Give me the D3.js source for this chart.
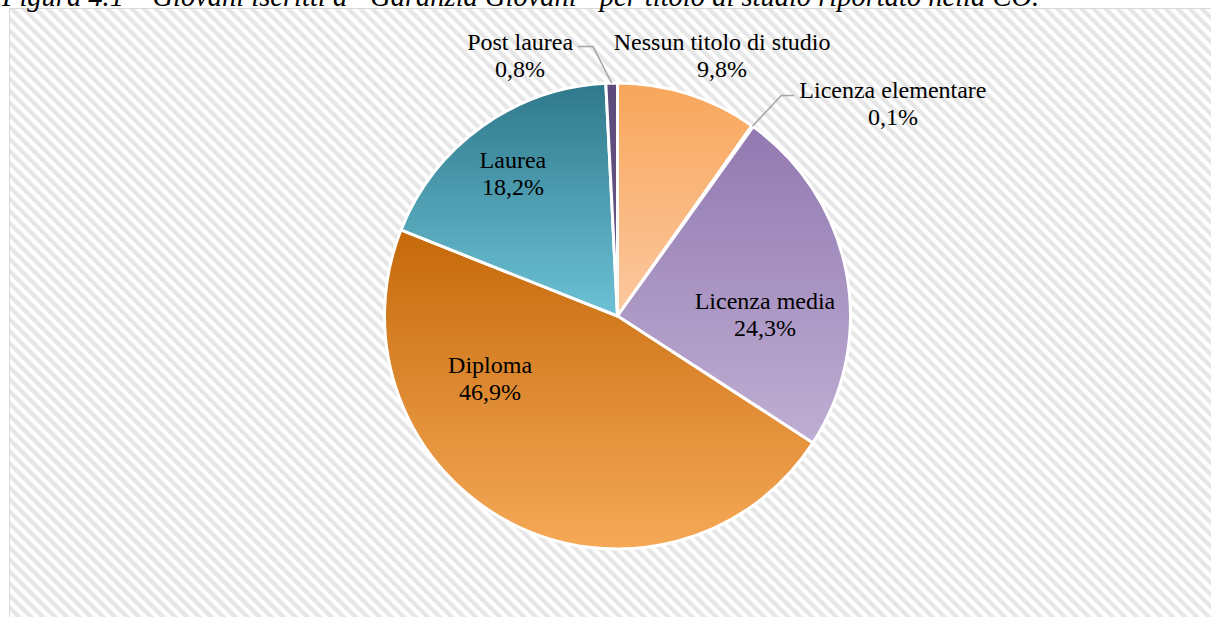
<!DOCTYPE html>
<html>
<head>
<meta charset="utf-8">
<script src="https://cdn.jsdelivr.net/npm/d3@7"></script>
<style>
    body { margin: 0; background: #fff; }
    svg { display: block; }
</style>
</head>
<body>
<script>
// dati
const categories = ["Nessun titolo di studio", "Licenza elementare", "Licenza media", "Diploma", "Laurea", "Post laurea"];
const values = [9.8, 0.1, 24.3, 46.9, 18.2, 0.8];
const valueLabels = ["9,8%", "0,1%", "24,3%", "46,9%", "18,2%", "0,8%"];
const colorsTop = ["#f8a65a", "#9a80b8", "#9279b1", "#c5690a", "#2f788b", "#5c4a7b"];
const colorsBottom = ["#fcc8a0", "#a48cc0", "#bfaed3", "#f6a957", "#6dc2d6", "#6a5889"];
const titleText = "Figura 4.1 – Giovani iscritti a “Garanzia Giovani” per titolo di studio riportato nella CO.";

const width = 1211;
const height = 617;
const cx = 617.5, cy = 316, R = 233;

// posizione delle etichette (centro del blocco, in frazioni del raggio) e lato della linea guida
const labelLayout = [
    { dx: 0.449, dy: -1.120, leader: null },
    { dx: 1.182, dy: -0.910, leader: "left" },
    { dx: 0.633, dy: -0.006, leader: null },
    { dx: -0.547, dy: 0.270, leader: null },
    { dx: -0.449, dy: -0.612, leader: null },
    { dx: -0.418, dy: -1.120, leader: "right" }
];

const svg = d3.select("body")
    .append("svg")
    .attr("width", width)
    .attr("height", height);

const defs = svg.append("defs");

const pattern = defs.append("pattern")
    .attr("id", "stripes")
    .attr("patternUnits", "userSpaceOnUse")
    .attr("width", 8.5)
    .attr("height", 10)
    .attr("patternTransform", "rotate(-45)");
pattern.append("rect").attr("width", 8.5).attr("height", 10).attr("fill", "#ffffff");
pattern.append("rect").attr("width", 4.3).attr("height", 10).attr("fill", "#e6e6e6");

values.forEach((v, i) => {
    const g = defs.append("linearGradient")
        .attr("id", "grad" + i)
        .attr("x1", 0).attr("y1", 0)
        .attr("x2", 0).attr("y2", 1);
    g.append("stop").attr("offset", "0%").attr("stop-color", colorsTop[i]);
    g.append("stop").attr("offset", "100%").attr("stop-color", colorsBottom[i]);
});

// area del grafico
svg.append("rect")
    .attr("x", 9.5)
    .attr("y", 8.5)
    .attr("width", 1240)
    .attr("height", 700)
    .attr("fill", "url(#stripes)")
    .attr("stroke", "#d9d9d9")
    .attr("stroke-width", 1);

// titolo (tagliato in alto come nell'originale)
svg.append("text")
    .attr("x", 2)
    .attr("y", 6)
    .attr("font-family", "'Liberation Serif', 'Times New Roman', serif")
    .attr("font-style", "italic")
    .attr("font-size", 28.5)
    .attr("fill", "#000")
    .text(titleText);

const pie = d3.pie().sort(null).value(d => d)(values);
const arc = d3.arc().innerRadius(0).outerRadius(R);
const edge = d3.arc().innerRadius(R).outerRadius(R);

const chart = svg.append("g").attr("transform", `translate(${cx},${cy})`);

chart.selectAll("path.slice")
    .data(pie)
    .enter().append("path")
    .attr("class", "slice")
    .attr("d", arc)
    .attr("fill", (d, i) => `url(#grad${i})`)
    .attr("stroke", "#ffffff")
    .attr("stroke-width", 3)
    .attr("stroke-linejoin", "round");

const fontSize = 24;
const lineGap = 27;

const labels = chart.selectAll("g.label")
    .data(pie)
    .enter().append("g")
    .attr("class", "label");

labels.each(function (d, i) {
    const lay = labelLayout[i];
    const x = lay.dx * R;
    const y = lay.dy * R;
    const base1 = y - lineGap / 2 + 8;
    const g = d3.select(this);

    const t1 = g.append("text")
        .attr("x", x)
        .attr("y", base1)
        .attr("text-anchor", "middle")
        .attr("font-family", "'Liberation Serif', 'Times New Roman', serif")
        .attr("font-size", fontSize)
        .attr("fill", "#000")
        .text(categories[i]);
    g.append("text")
        .attr("x", x)
        .attr("y", base1 + lineGap)
        .attr("text-anchor", "middle")
        .attr("font-family", "'Liberation Serif', 'Times New Roman', serif")
        .attr("font-size", fontSize)
        .attr("fill", "#000")
        .text(valueLabels[i]);

    if (lay.leader) {
        const w = t1.node().getComputedTextLength();
        const ly = base1 - 3;
        const p = edge.centroid(d);
        let endX, elbowX;
        if (lay.leader === "left") {
            endX = x - w / 2 - 5;
            elbowX = endX - 13;
        } else {
            endX = x + w / 2 + 5;
            elbowX = endX + 15;
        }
        g.insert("polyline", "text")
            .attr("points", [[p[0], p[1]], [elbowX, ly], [endX, ly]].map(q => q.join(",")).join(" "))
            .attr("fill", "none")
            .attr("stroke", "#a6a6a6")
            .attr("stroke-width", 1.5);
    }
});
</script>
</body>
</html>
